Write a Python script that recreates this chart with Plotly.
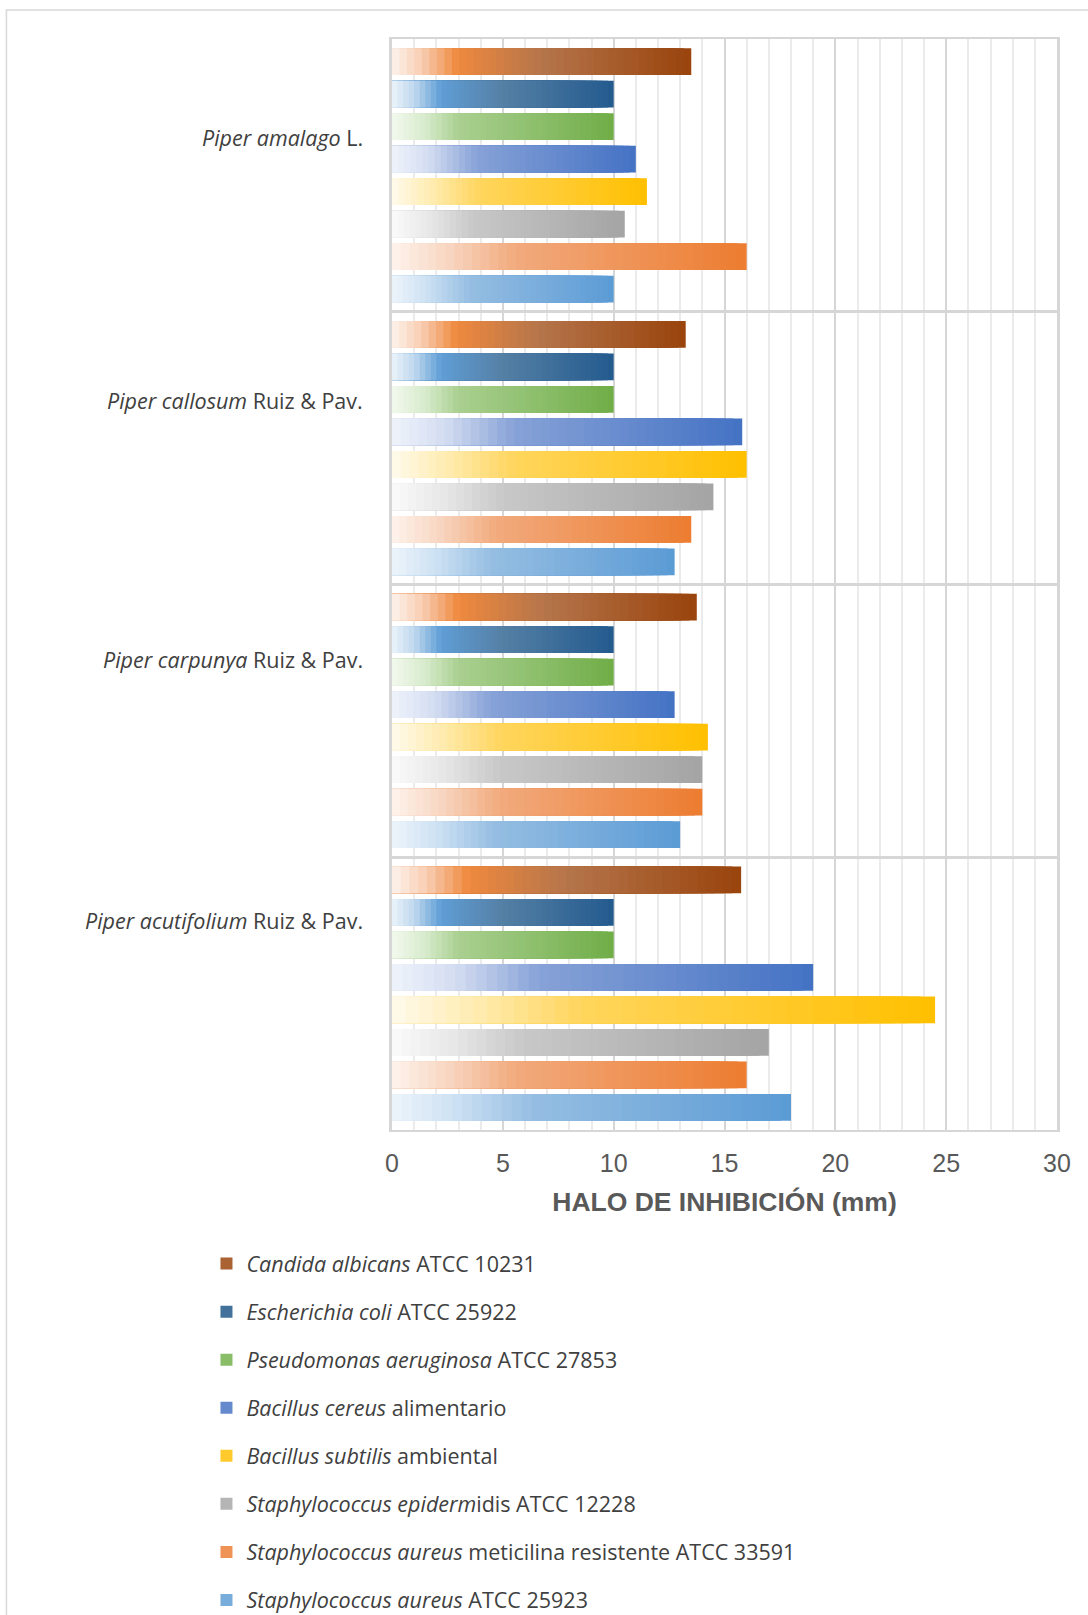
import plotly.graph_objects as go

# ---- data -------------------------------------------------------------
species = ["Piper amalago", "Piper callosum", "Piper carpunya", "Piper acutifolium"]
species_labels = [
    "<i>Piper amalago</i> L.",
    "<i>Piper callosum</i> Ruiz &amp; Pav.",
    "<i>Piper carpunya</i> Ruiz &amp; Pav.",
    "<i>Piper acutifolium</i> Ruiz &amp; Pav.",
]

strain_names = [
    "<i>Candida albicans</i> ATCC 10231",
    "<i>Escherichia coli</i> ATCC 25922",
    "<i>Pseudomonas aeruginosa</i> ATCC 27853",
    "<i>Bacillus cereus</i> alimentario",
    "<i>Bacillus subtilis</i> ambiental",
    "<i>Staphylococcus epiderm</i>idis ATCC 12228",
    "<i>Staphylococcus aureus</i> meticilina resistente ATCC 33591",
    "<i>Staphylococcus aureus</i> ATCC 25923",
]

# inhibition halo (mm), one value per Piper species
candida_albicans = [13.5, 13.25, 13.75, 15.75]
escherichia_coli = [10, 10, 10, 10]
pseudomonas_aeruginosa = [10, 10, 10, 10]
bacillus_cereus = [11, 15.8, 12.75, 19]
bacillus_subtilis = [11.5, 16, 14.25, 24.5]
staph_epidermidis = [10.5, 14.5, 14, 17]
staph_aureus_mrsa = [16, 13.5, 14, 16]
staph_aureus = [10, 12.75, 13, 18]

series_values = [
    candida_albicans, escherichia_coli, pseudomonas_aeruginosa, bacillus_cereus,
    bacillus_subtilis, staph_epidermidis, staph_aureus_mrsa, staph_aureus,
]

x_ticks = [0, 5, 10, 15, 20, 25, 30]

# ---- styling ------------------------------------------------------------
# left-to-right gradient stops (fraction of bar length, rgb)
gradients = [
    [(0, (253, 243, 236)), (0.1, (248, 205, 178)), (0.22, (239, 137, 62)), (0.5, (181, 117, 75)), (1, (153, 67, 12))],
    [(0, (235, 243, 250)), (0.1, (192, 216, 238)), (0.22, (96, 158, 214)), (0.5, (85, 128, 165)), (1, (35, 90, 142))],
    [(0, (242, 248, 238)), (0.15, (216, 235, 204)), (0.3, (170, 208, 145)), (1, (112, 173, 71))],
    [(0, (239, 243, 251)), (0.15, (212, 221, 241)), (0.35, (135, 162, 215)), (1, (68, 114, 196))],
    [(0, (255, 250, 236)), (0.15, (255, 236, 178)), (0.35, (255, 213, 92)), (1, (255, 192, 0))],
    [(0, (250, 250, 250)), (0.15, (233, 233, 233)), (0.35, (200, 200, 200)), (1, (164, 164, 164))],
    [(0, (253, 243, 236)), (0.15, (248, 216, 196)), (0.35, (242, 170, 125)), (1, (236, 124, 48))],
    [(0, (236, 244, 251)), (0.15, (207, 226, 243)), (0.35, (150, 190, 226)), (1, (91, 155, 213))],
]

N_STEPS = 40
FONT_TEXT = "Open Sans, Noto Sans, sans-serif"
FONT_AXIS = "Liberation Sans Narrow, Arial Narrow, Liberation Sans, sans-serif"


def color_at(stops, t):
    for (t0, c0), (t1, c1) in zip(stops[:-1], stops[1:]):
        if t <= t1:
            f = 0 if t1 == t0 else (t - t0) / (t1 - t0)
            c = [round(a + (b - a) * f) for a, b in zip(c0, c1)]
            return "rgb({},{},{})".format(*c)
    return "rgb({},{},{})".format(*stops[-1][1])


fig = go.Figure()

# Each bar gets a horizontal gradient: the full-length bar is drawn in the end
# colour, then progressively shorter bars in lighter colours are laid over it
# (same offsetgroup, so they share one slot).
for s, (name, vals, stops) in enumerate(zip(strain_names, series_values, gradients)):
    for k in range(N_STEPS):
        frac = (N_STEPS - k) / N_STEPS
        t = (N_STEPS - k - 0.5) / N_STEPS
        fig.add_trace(go.Bar(
            y=species,
            x=[v * frac for v in vals],
            orientation="h",
            offsetgroup=str(s),
            legendgroup=str(s),
            name=name,
            showlegend=(k == int(N_STEPS * 0.3)),
            marker=dict(color=color_at(stops, t), line=dict(width=0)),
            hoverinfo="skip",
        ))

# species labels to the left of each group
label_shift = [38, 48, 61, 73]
for sp, lab, dy in zip(species, species_labels, label_shift):
    fig.add_annotation(
        x=0, xref="paper", xanchor="right", xshift=-27,
        y=sp, yref="y", yanchor="middle", yshift=dy,
        text=lab, showarrow=False,
        font=dict(family=FONT_TEXT, size=21.5, color="#404040"),
    )

# outer chart frame
fig.add_shape(
    type="rect", xref="paper", yref="paper",
    x0=-0.5798, x1=1.2, y0=-0.6, y1=1.0266,
    line=dict(color="#d9d9d9", width=1.5), fillcolor="rgba(0,0,0,0)", layer="below",
)

fig.update_layout(
    width=1088, height=1615,
    margin=dict(l=392, r=31, t=39, b=485, autoexpand=False),
    paper_bgcolor="white", plot_bgcolor="white",
    barmode="group", bargap=0.047, bargroupgap=0.18,
    xaxis=dict(
        range=[0, 30], tickvals=x_ticks, ticktext=[str(v) for v in x_ticks],
        showgrid=True, gridcolor="#d6d6d6", gridwidth=2,
        minor=dict(dtick=1, showgrid=True, gridcolor="#ebebeb", gridwidth=1.5),
        showline=True, mirror=True, linecolor="#d6d6d6", linewidth=2,
        zeroline=False, ticks="", ticklabelstandoff=10,
        tickfont=dict(family=FONT_AXIS, size=25, color="#595959"),
        title=dict(
            text="<b>HALO DE INHIBICIÓN (mm)</b>", standoff=16,
            font=dict(family=FONT_AXIS, size=26.5, color="#595959"),
        ),
        fixedrange=True,
    ),
    yaxis=dict(
        type="category", categoryorder="array", categoryarray=species,
        autorange="reversed", showticklabels=False, ticks="",
        showgrid=True, tickson="boundaries", gridcolor="#d6d6d6", gridwidth=2.5,
        showline=True, mirror=True, linecolor="#d6d6d6", linewidth=2.5,
        zeroline=False, fixedrange=True,
    ),
    legend=dict(
        orientation="v", traceorder="grouped", tracegroupgap=17.1,
        x=-0.279, xanchor="left", y=-0.1037, yanchor="top",
        font=dict(family=FONT_TEXT, size=21.5, color="#404040"),
        bgcolor="rgba(0,0,0,0)",
    ),
)

fig.write_html("out.html")
